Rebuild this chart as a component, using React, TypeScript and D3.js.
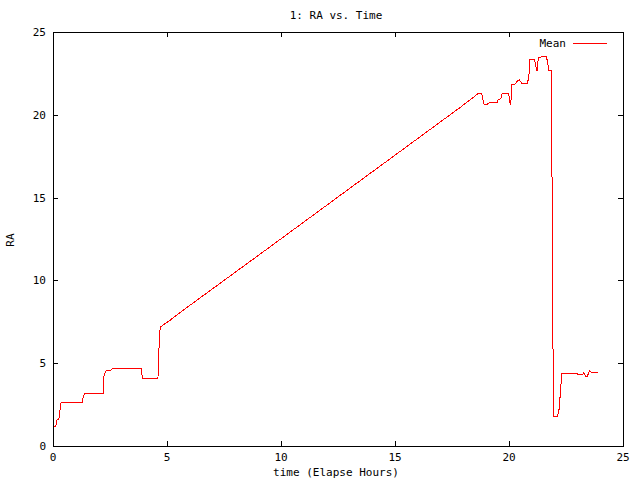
import React from "react";
import * as d3 from "d3";

const title = "1: RA vs. Time";
const xLabel = "time (Elapse Hours)";
const yLabel = "RA";
const seriesName = "Mean";
const xTicks = [0, 5, 10, 15, 20, 25];
const yTicks = [0, 5, 10, 15, 20, 25];

const timeHours = [
  0.0, 0.1, 0.12, 0.16, 0.23, 0.26, 0.3, 0.34, 1.26, 1.3, 1.36, 2.18, 2.21, 2.28, 2.5, 2.57,
  3.85, 3.89, 3.92, 4.58, 4.6, 4.64, 4.68, 4.84, 5.06, 5.57, 9.52, 13.46, 17.85, 18.65, 18.77,
  18.82, 18.88, 18.99, 19.14, 19.46, 19.5, 19.61, 19.68, 19.97, 20.01, 20.06, 20.09, 20.23,
  20.37, 20.44, 20.53, 20.78, 20.85, 20.88, 21.1, 21.14, 21.21, 21.24, 21.29, 21.62, 21.68,
  21.72, 21.84, 21.9, 21.94, 22.09, 22.16, 22.2, 22.26, 22.3, 22.34, 22.6, 22.97, 23.0, 23.19,
  23.26, 23.33, 23.42, 23.48, 23.52, 23.6, 23.65, 23.89,
];
const raMean = [
  1.17, 1.25, 1.37, 1.61, 1.62, 1.91, 2.4, 2.68, 2.68, 2.98, 3.18, 3.18, 4.25, 4.55, 4.6, 4.69,
  4.69, 4.25, 4.09, 4.09, 4.79, 6.4, 7.2, 7.37, 7.57, 8.11, 12.08, 16.06, 20.49, 21.34, 21.34,
  21.06, 20.69, 20.63, 20.79, 20.79, 20.93, 20.99, 21.3, 21.3, 20.79, 20.65, 21.86, 21.86,
  22.1, 22.14, 21.94, 21.94, 22.3, 23.35, 23.35, 23.07, 22.66, 23.2, 23.51, 23.55, 23.11,
  22.71, 22.71, 7.0, 1.81, 1.81, 2.06, 2.67, 3.78, 4.39, 4.43, 4.39, 4.39, 4.33, 4.33,
  4.45, 4.25, 4.25, 4.49, 4.59, 4.45, 4.49, 4.49,
];

const W = 640;
const H = 480;
const left = 53;
const right = 623;
const top = 32;
const bottom = 446;
const font = "'DejaVu Sans Mono', monospace";
const tickLen = 5;

export default function App() {
  const x = d3.scaleLinear().domain([0, 25]).range([left, right]);
  const y = d3.scaleLinear().domain([0, 25]).range([bottom, top]);
  const data = timeHours.map((t, i) => [t, raMean[i]] as [number, number]);
  const line = d3
    .line<[number, number]>()
    .x((d) => x(d[0]) + 0.5)
    .y((d) => y(d[1]) + 0.5);

  return (
    <svg
      width={W}
      height={H}
      style={{ position: "absolute", left: 0, top: 0, background: "#fff" }}
      fontFamily={font}
      fontSize={11}
    >
      <rect x={0} y={0} width={W} height={H} fill="#fff" />
      {xTicks.map((t) => (
        <g key={"x" + t} shapeRendering="crispEdges">
          <line x1={x(t) + 0.5} x2={x(t) + 0.5} y1={bottom} y2={bottom - tickLen} stroke="#000" />
          <line x1={x(t) + 0.5} x2={x(t) + 0.5} y1={top} y2={top + tickLen} stroke="#000" />
          <text x={x(t)} y={461} textAnchor="middle" fill="#000">
            {t}
          </text>
        </g>
      ))}
      {yTicks.map((t) => (
        <g key={"y" + t} shapeRendering="crispEdges">
          <line x1={left} x2={left + tickLen} y1={y(t) + 0.5} y2={y(t) + 0.5} stroke="#000" />
          <line x1={right} x2={right - tickLen} y1={y(t) + 0.5} y2={y(t) + 0.5} stroke="#000" />
          <text x={46} y={y(t) + 4} textAnchor="end" fill="#000">
            {t}
          </text>
        </g>
      ))}
      <rect
        x={left + 0.5}
        y={top + 0.5}
        width={right - left}
        height={bottom - top}
        fill="none"
        stroke="#000"
        shapeRendering="crispEdges"
      />
      <path
        d={line(data) || ""}
        fill="none"
        stroke="#ff0000"
        strokeWidth={1}
        shapeRendering="crispEdges"
      />
      <text x={336} y={19} textAnchor="middle" fill="#000">
        {title}
      </text>
      <text x={336} y={476} textAnchor="middle" fill="#000">
        {xLabel}
      </text>
      <text
        transform={`translate(14, 240) rotate(-90)`}
        textAnchor="middle"
        fill="#000"
      >
        {yLabel}
      </text>
      <text x={566} y={47} textAnchor="end" fill="#000">
        {seriesName}
      </text>
      <line
        x1={573}
        x2={607}
        y1={43.5}
        y2={43.5}
        stroke="#ff0000"
        shapeRendering="crispEdges"
      />
    </svg>
  );
}
